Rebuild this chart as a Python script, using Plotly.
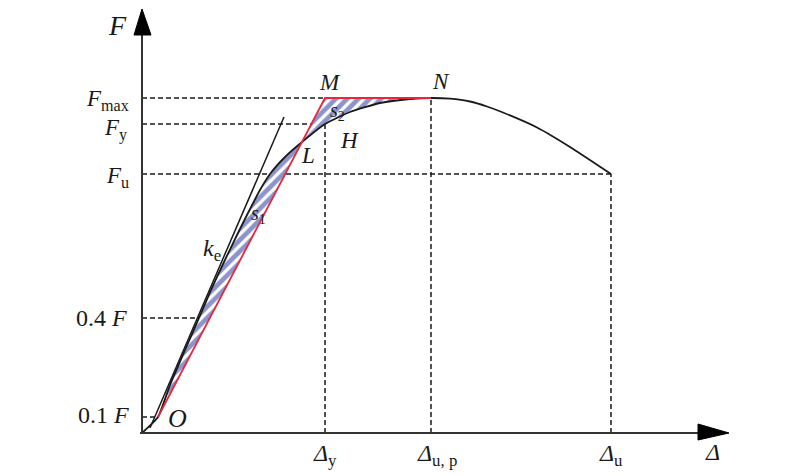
import plotly.graph_objects as go

# ---- schematic data (units: arbitrary, origin at axis crossing) ----
# characteristic force levels
F_max = 335
F_y = 309
F_u = 259
F_04 = 115
F_01 = 16
# characteristic displacements
D_y = 183
D_up = 289
D_u = 469

# load-displacement skeleton curve
curve_x = [0, 16, 28, 43, 57, 69, 82, 95, 106, 118, 128, 143, 160, 183, 208, 238, 268, 289, 308, 328, 345, 361, 395, 428, 469]
curve_y = [0, 16, 48, 83, 115, 143, 171, 198, 220, 243, 259, 276, 291, 309, 321, 330, 334, 335, 334.3, 331.5, 326.5, 320.5, 305.5, 286, 259]

# key points
O_pt = (16, 16)
L_pt = (160, 291)
M_pt = (D_y, F_max)
N_pt = (D_up, F_max)

# initial stiffness tangent k_e
ke_x = [8, 142]
ke_y = [5, 316]

# axis extents
x_axis_end = 587
y_axis_end = 424

ink = "#1a1a1a"
red = "#e5283c"
blue = "#1a2a9a"
serif = "Liberation Serif"

fig = go.Figure()

def seg(xs, ys, color=ink, width=1.6, dash=None):
    fig.add_trace(go.Scatter(x=xs, y=ys, mode="lines",
                             line=dict(color=color, width=width, dash=dash),
                             hoverinfo="skip", showlegend=False))

dash = "5px,3px"
# dashed reference lines
seg([0, N_pt[0]], [F_max, F_max], dash=dash, width=1.5)
seg([0, D_y], [F_y, F_y], dash=dash, width=1.5)
seg([0, D_u], [F_u, F_u], dash=dash, width=1.5)
seg([0, curve_x[4]], [F_04, F_04], dash=dash, width=1.5)
seg([0, O_pt[0]], [F_01, F_01], dash=dash, width=1.5)
seg([D_y, D_y], [0, F_max], dash=dash, width=1.5)
seg([D_up, D_up], [0, F_max], dash=dash, width=1.5)
seg([D_u, D_u], [0, F_u], dash=dash, width=1.5)

# hatched areas s1 and s2
iL = curve_x.index(L_pt[0])
iN = curve_x.index(N_pt[0])
s1_x = curve_x[1:iL + 1] + [O_pt[0]]
s1_y = curve_y[1:iL + 1] + [O_pt[1]]
s2_x = curve_x[iL:iN + 1] + [M_pt[0], L_pt[0]]
s2_y = curve_y[iL:iN + 1] + [M_pt[1], L_pt[1]]
for xs, ys in [(s1_x, s1_y), (s2_x, s2_y)]:
    fig.add_trace(go.Scatter(x=xs, y=ys, mode="lines", fill="toself",
                             line=dict(width=0, color="rgba(0,0,0,0)"),
                             fillcolor="white",
                             fillpattern=dict(shape="/", fgcolor=blue, bgcolor="white",
                                              size=8, solidity=0.6),
                             hoverinfo="skip", showlegend=False))

# skeleton curve
fig.add_trace(go.Scatter(x=curve_x, y=curve_y, mode="lines",
                         line=dict(color=ink, width=1.8, shape="spline", smoothing=0.5),
                         hoverinfo="skip", showlegend=False))
# tangent
seg(ke_x, ke_y, width=1.5)
# red bilinear line O-M-N
seg([O_pt[0], M_pt[0], N_pt[0]], [O_pt[1], M_pt[1], N_pt[1]], color=red, width=1.8)

# axes
seg([0, 0], [0, y_axis_end - 26], color="#333", width=2)
seg([-2, x_axis_end - 28], [0, 0], color="#333", width=2)
fig.add_trace(go.Scatter(x=[-8, 0, 9, -8], y=[398, y_axis_end, 398, 398], mode="lines",
                         fill="toself", fillcolor="black", line=dict(color="black", width=1),
                         hoverinfo="skip", showlegend=False))
fig.add_trace(go.Scatter(x=[556, x_axis_end, 556, 556], y=[9, 0, -7, 9], mode="lines",
                         fill="toself", fillcolor="black", line=dict(color="black", width=1),
                         hoverinfo="skip", showlegend=False))

def lab(x, y, text, size=24, xanchor="center", yanchor="middle", xshift=0, yshift=0):
    fig.add_annotation(x=x, y=y, text=text, showarrow=False, xanchor=xanchor,
                       yanchor=yanchor, xshift=xshift, yshift=yshift,
                       font=dict(family=serif, size=size, color=ink))

# y-axis labels
lab(-11, F_max, "<i>F</i><sub>max</sub>", size=23, xanchor="right", yshift=-2)
lab(-13, F_y, "<i>F</i><sub>y</sub>", size=23, xanchor="right", yshift=-5)
lab(-11, F_u, "<i>F</i><sub>u</sub>", size=23, xanchor="right", yshift=-3)
lab(-13, F_04, "0.4 <i>F</i>", xanchor="right")
lab(-11, F_01, "0.1 <i>F</i>", xanchor="right", yshift=2)
lab(-25, 408, "<i>F</i>", size=28)

# x-axis labels
lab(D_y, -22, "<i>Δ</i><sub>y</sub>")
lab(D_up, -22, "<i>Δ</i><sub>u, p</sub>", xshift=6)
lab(D_u, -22, "<i>Δ</i><sub>u</sub>")
lab(570, -19, "<i>Δ</i>")

# point labels
lab(35, 15, "<i>O</i>", size=26)
lab(70, 183, "<i>k</i><sub>e</sub>")
lab(116, 219, "<i>s</i><sub>1</sub>", size=20)
lab(166, 278, "<i>L</i>", size=23)
lab(207, 293, "<i>H</i>", size=23)
lab(195, 322, "<i>s</i><sub>2</sub>", size=20)
lab(188, 351, "<i>M</i>", size=23)
lab(299, 352, "<i>N</i>", size=23)

# page body has an 8px margin: figure is 792x468, ranges keep 1 unit = 1 px
fig.update_layout(
    width=792, height=468,
    margin=dict(l=0, r=0, t=0, b=0),
    paper_bgcolor="white", plot_bgcolor="white",
    xaxis=dict(range=[-134, 658], visible=False, fixedrange=True),
    yaxis=dict(range=[-43, 425], visible=False, fixedrange=True),
    showlegend=False,
)
fig.write_html("out.html")
